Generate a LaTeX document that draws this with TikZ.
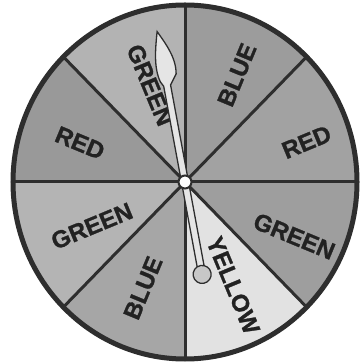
\documentclass[tikz,border=0pt]{standalone}
\usepackage{fontspec}
\setmainfont{Liberation Sans}
\newfontfamily\heavyfont{Liberation Sans Bold}[FakeBold=1.2]
\definecolor{lineC}{HTML}{2E2E2E}
\definecolor{txtC}{HTML}{222222}
\definecolor{cGtl}{HTML}{B3B3B3}
\definecolor{cBtr}{HTML}{9C9C9C}
\definecolor{cRr}{HTML}{A2A2A2}
\definecolor{cGr}{HTML}{9E9E9E}
\definecolor{cY}{HTML}{E2E2E2}
\definecolor{cBb}{HTML}{A6A6A6}
\definecolor{cGl}{HTML}{B4B4B4}
\definecolor{cRl}{HTML}{999999}
\tikzset{
  lab/.style={text=txtC,font=\heavyfont\fontsize{24}{24}\selectfont,inner sep=0pt},
  sep/.style={draw=lineC,line width=3pt},
}
\newcommand{\sect}[3]{\fill[#3] (0,0) -- (#1:172 and 177) arc[start angle=#1,end angle=#2,x radius=172,y radius=177] -- cycle;}
\begin{document}
\begin{tikzpicture}[x=1pt,y=1pt]
\useasboundingbox (-185,-181) rectangle (175,182);
\fill[white] (-185,-181) rectangle (175,182);
\coordinate (c) at (0,0);
% sectors
\sect{45}{90}{cBtr}
\sect{0}{45}{cRr}
\sect{-45}{0}{cGr}
\sect{-90}{-45}{cY}
\sect{-135}{-90}{cBb}
\sect{-180}{-135}{cGl}
\sect{135}{180}{cRl}
\sect{90}{135}{cGtl}
% separators
\foreach \a in {0,45,...,315}{
  \coordinate (e\a) at (\a:172 and 177);
  \draw[sep] (c) -- (e\a);
}
\draw[draw=lineC,line width=5pt] (c) ellipse [x radius=172,y radius=177];
% labels
\node[lab,rotate=-67.5] (l1) at (109.8:103) {GREEN};
\node[lab,rotate=67.5] (l2) at (64.1:119) {BLUE};
\node[lab,rotate=22.5] (l3) at (18.2:128) {RED};
\node[lab,rotate=-22.5] (l4) at (159.6:112) {RED};
\node[lab,rotate=22.5] (l5) at (205.3:103) {GREEN};
\node[lab,rotate=67.5] (l6) at (248.4:114) {BLUE};
\node[lab,rotate=-22.5] (l7) at (-26.4:122) {GREEN};
\node[lab,rotate=-67.5] (l8) at (-65:114) {YELLOW};
% needle
\begin{scope}[rotate=10.5]
  \draw[lineC,line width=1.3pt,fill=white!90!black]
    (-3.5,-88) -- (-3.5,98) -- (-6,103) .. controls (-10,118) and (-5,136) .. (0,153)
    .. controls (6,140) and (14,124) .. (11,108) -- (3.5,98) -- (3.5,-88) -- cycle;
  \draw[lineC,line width=1.3pt,fill=black!22] (0,-94) circle[radius=9];
\end{scope}
\draw[lineC,line width=2pt,fill=white] (c) circle[radius=6.5];
\fill[white] (c) circle[radius=4];
\end{tikzpicture}
\end{document}
